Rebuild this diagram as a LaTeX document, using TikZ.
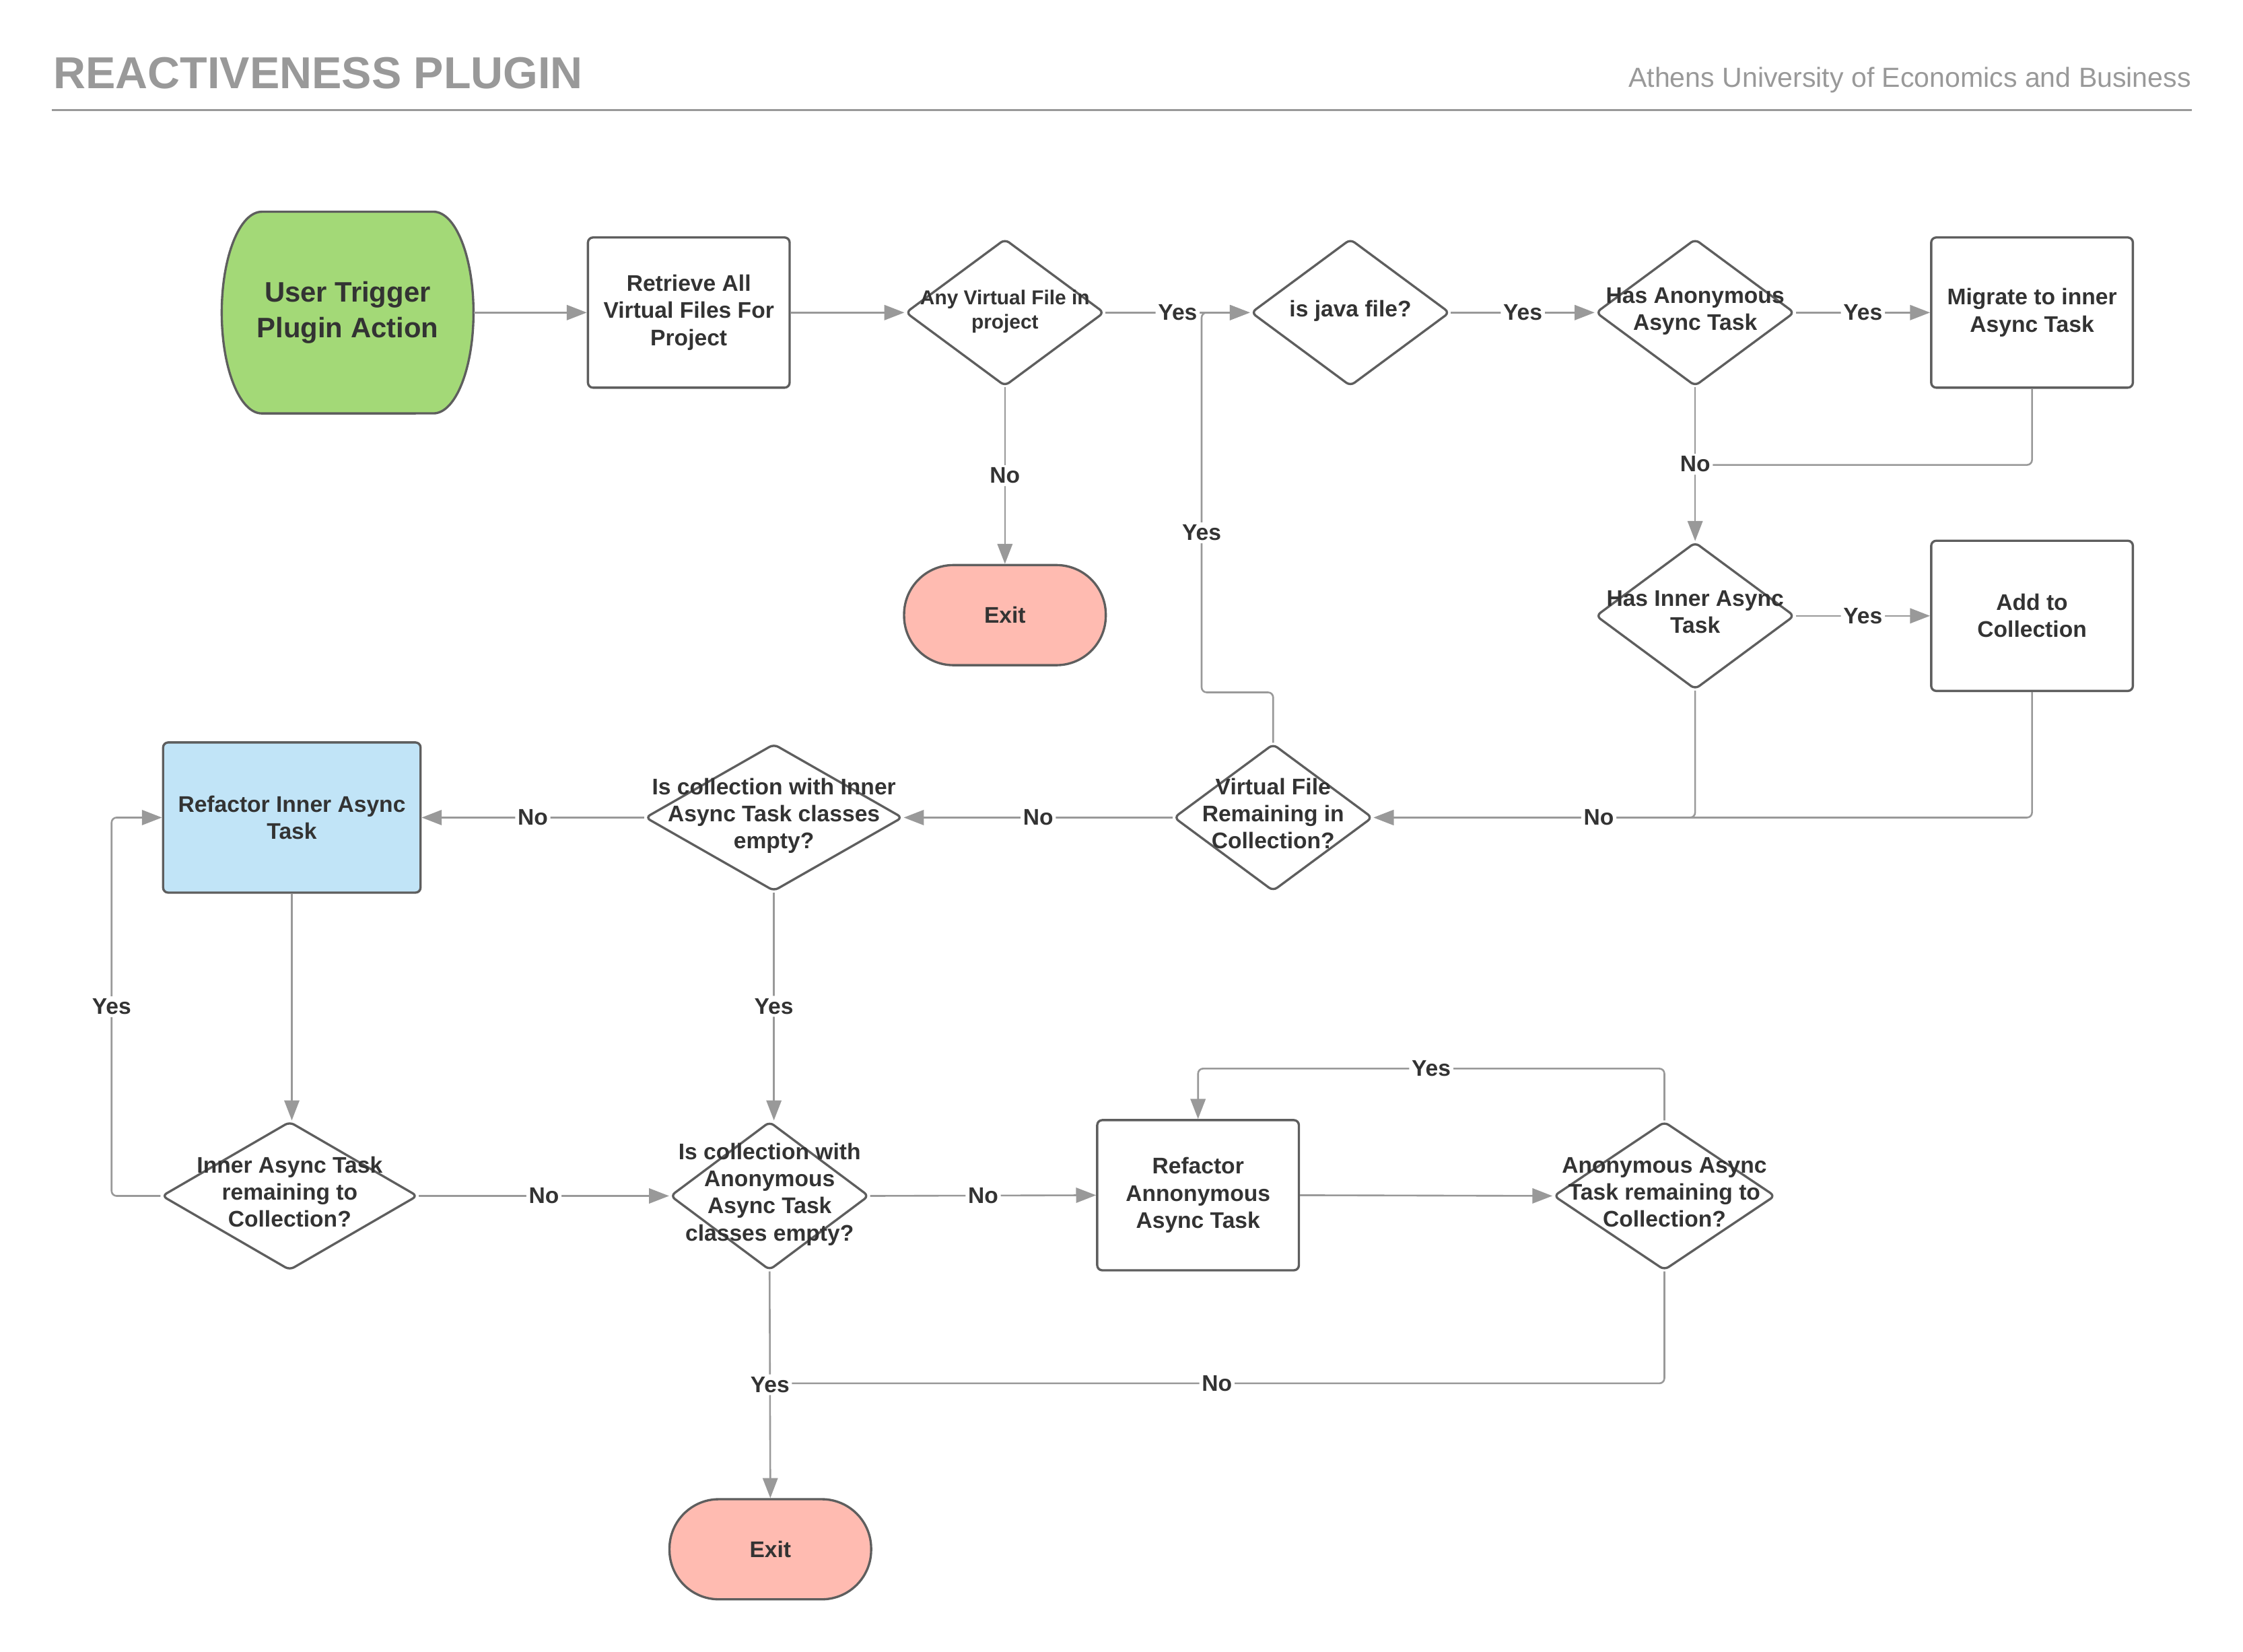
\documentclass[tikz,border=0pt]{standalone}
\usepackage{fontspec}
\setmainfont{Liberation Sans}
\usetikzlibrary{arrows.meta,shapes.geometric}

\definecolor{lineGray}{HTML}{999999}
\definecolor{border}{HTML}{5E5E5E}
\definecolor{txt}{HTML}{333333}
\definecolor{titleGray}{HTML}{999999}
\definecolor{startGreen}{HTML}{A3D977}
\definecolor{exitRed}{HTML}{FFBBB1}
\definecolor{refBlue}{HTML}{C1E4F7}

\newcommand{\dtext}[1]{\makebox[0pt]{\smash{\raisebox{-1.7pt}{\begin{tabular}{@{}c@{}}#1\end{tabular}}}}}

\begin{document}
\begin{tikzpicture}[x=0.02cm, y=-0.02cm,
  box/.style={draw=border, line width=0.9pt, rounded corners=2pt, fill=white, minimum width=2.82cm, minimum height=2.1cm, align=center, text=txt, font=\fontsize{9}{10.8}\selectfont\bfseries, inner sep=2pt},
  dec/.style={diamond, draw=border, line width=0.9pt, rounded corners=2pt, fill=white, minimum width=2.78cm, minimum height=2.06cm, inner sep=0pt, text=txt, font=\fontsize{9}{10.8}\selectfont\bfseries},
  term/.style={rectangle, rounded corners=0.69cm, draw=border, line width=0.9pt, fill=exitRed, minimum width=2.82cm, minimum height=1.4cm, text=txt, font=\fontsize{9}{10.8}\selectfont\bfseries},
  conn/.style={draw=lineGray, line width=0.7pt, rounded corners=2pt},
  arr/.style={conn, -{Triangle[length=0.28cm, width=0.21cm]}},
  lbl/.style={fill=white, inner sep=1pt, text=txt, font=\fontsize{9}{10.8}\selectfont\bfseries}]
\useasboundingbox (0,0) rectangle (1568,1154.4);

\node[anchor=base west, inner sep=0pt, text=titleGray, font=\fontsize{17.8}{20}\selectfont\bfseries] (title) at (37,62) {REACTIVENESS PLUGIN};
\node[anchor=base east, inner sep=0pt, text=titleGray, font=\fontsize{11}{13}\selectfont] (uni) at (1532,61) {Athens University of Economics and Business};
\draw[titleGray, line width=0.9pt] (36,77) -- (1532,77);

\filldraw[fill=startGreen, draw=border, line width=0.9pt] (183,148) -- (303,148) arc[start angle=90, end angle=-90, x radius=0.56cm, y radius=1.41cm] -- (183,289) arc[start angle=270, end angle=90, x radius=0.56cm, y radius=1.41cm] -- cycle;
\node[minimum width=3.52cm, minimum height=2.82cm, align=center, text=txt, font=\fontsize{11.2}{14.2}\selectfont\bfseries] (start) at (243,218.5) {User Trigger\\Plugin Action};

\node[box] (retrieve) at (481.5,218.5) {Retrieve All\\Virtual Files For\\Project};
\node[dec, font=\fontsize{8}{9.6}\selectfont\bfseries] (anyvf) at (702.5,218.5) {\dtext{Any Virtual File in\\project}};
\node[term] (exit1) at (702.5,430) {Exit};
\node[dec] (isjava) at (944,218.5) {\dtext{is java file?}};
\node[dec] (hasanon) at (1185,218.5) {\dtext{Has Anonymous\\Async Task}};
\node[box] (migrate) at (1420.5,218.5) {Migrate to inner\\Async Task};
\node[dec] (hasinner) at (1185,430.5) {\dtext{Has Inner Async\\Task}};
\node[box] (addcoll) at (1420.5,430.5) {Add to\\Collection};
\node[dec] (vfremain) at (890,571.5) {\dtext{Virtual File\\Remaining in\\Collection?}};
\node[dec, minimum width=3.6cm] (collinner) at (541,571.5) {\dtext{Is collection with Inner\\Async Task classes\\empty?}};
\node[box, fill=refBlue, minimum width=3.6cm] (refinner) at (204,571.5) {Refactor Inner Async\\Task};
\node[dec, minimum width=3.58cm, minimum height=2.08cm] (innerremain) at (202.5,836) {\dtext{Inner Async Task\\remaining to\\Collection?}};
\node[dec, minimum height=2.08cm] (collanon) at (538,836) {\dtext{Is collection with\\Anonymous\\Async Task\\classes empty?}};
\node[box] (refanon) at (837.5,835.5) {Refactor\\Annonymous\\Async Task};
\node[dec, minimum width=3.1cm, minimum height=2.08cm] (anonremain) at (1163.5,836) {\dtext{Anonymous Async\\Task remaining to\\Collection?}};
\node[term] (exit2) at (538.5,1083) {Exit};

\coordinate (mjoin) at (1185,325);
\coordinate (yesbend) at (840,484);
\coordinate (yesleft) at (78,836);
\coordinate (yestop) at (1163.5,747);
\coordinate (nobottom) at (1163.5,967);

\draw[arr] (start.east) -- (retrieve.west);
\draw[arr] (retrieve.east) -- (anyvf.west);
\draw[arr] (anyvf.east) -- node[lbl]{Yes} (isjava.west);
\draw[arr] (anyvf.south) -- node[lbl]{No} (exit1.north);
\draw[arr] (isjava.east) -- node[lbl]{Yes} (hasanon.west);
\draw[arr] (hasanon.east) -- node[lbl]{Yes} (migrate.west);
\draw[conn] (migrate.south) |- (mjoin);
\draw[arr] (hasanon.south) -- node[lbl]{No} (hasinner.north);
\draw[arr] (hasinner.east) -- node[lbl]{Yes} (addcoll.west);
\draw[arr] (addcoll.south) |- (vfremain.east);
\draw[arr] (hasinner.south) |- node[lbl, pos=0.65]{No} (vfremain.east);
\draw[arr] (vfremain.north) |- (yesbend) |- node[lbl, pos=0.21]{Yes} (isjava.west);
\draw[arr] (vfremain.west) -- node[lbl]{No} (collinner.east);
\draw[arr] (collinner.west) -- node[lbl]{No} (refinner.east);
\draw[arr] (collinner.south) -- node[lbl]{Yes} (collinner.south |- collanon.north);
\draw[arr] (refinner.south) -- (refinner.south |- innerremain.north);
\draw[arr] (innerremain.west) -- (yesleft) |- node[lbl, pos=0.25]{Yes} (refinner.west);
\draw[arr] (innerremain.east) -- node[lbl]{No} (collanon.west);
\draw[arr] (collanon.east) -- node[lbl]{No} (refanon.west);
\draw[arr] (refanon.east) -- (anonremain.west);
\draw[arr] (anonremain.north) -- (yestop) -| node[lbl, pos=0.25]{Yes} (refanon.north);
\draw[conn] (anonremain.south) |- node[lbl, pos=0.75]{No} (collanon.south |- nobottom);
\draw[arr] (collanon.south) -- node[lbl]{Yes} (exit2.north);
\end{tikzpicture}
\end{document}
